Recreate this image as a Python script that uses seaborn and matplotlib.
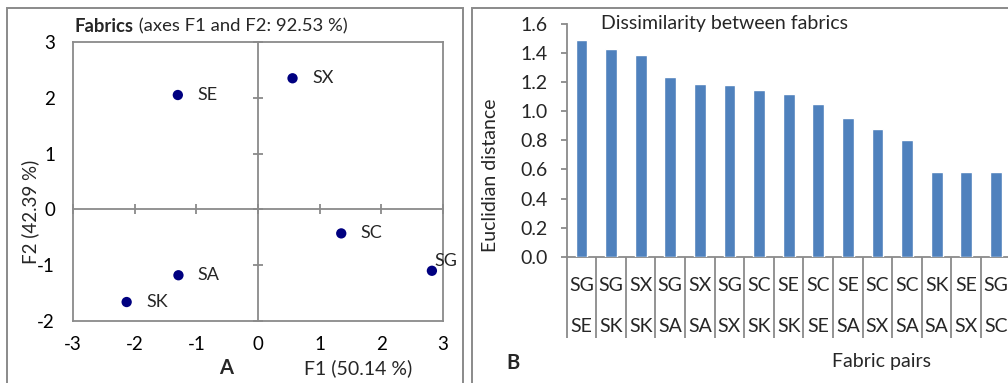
import numpy as np
import pandas as pd
import matplotlib
matplotlib.use("Agg")
import matplotlib.pyplot as plt
from matplotlib.patches import Rectangle
import seaborn as sns

# ---- data: panel A (PCA scores) ----
fabrics = ["SE", "SX", "SC", "SG", "SA", "SK"]
f1_scores = [-1.30, 0.56, 1.35, 2.82, -1.29, -2.13]
f2_scores = [2.05, 2.35, -0.43, -1.10, -1.18, -1.66]

# ---- data: panel B (Euclidean distances) ----
pair_first = ["SG", "SG", "SX", "SG", "SX", "SG", "SC", "SE", "SC", "SE", "SC", "SC", "SK", "SE", "SG"]
pair_second = ["SE", "SK", "SK", "SA", "SA", "SX", "SK", "SK", "SE", "SA", "SX", "SA", "SA", "SX", "SC"]
distances = [1.49, 1.425, 1.385, 1.235, 1.19, 1.18, 1.145, 1.12, 1.05, 0.955, 0.88, 0.80, 0.58, 0.58, 0.58]

sns.set_theme(style="white")
plt.rcParams["font.family"] = ["Lato", "DejaVu Sans"]
plt.rcParams["axes.unicode_minus"] = False

W, H = 1008, 383
fig = plt.figure(figsize=(W / 100, H / 100), dpi=100)
GRAY = "#8a8a8a"


def fx(px):
    return px / W


def fy(py):
    return 1 - py / H


# panel frames
fig.add_artist(Rectangle((fx(7), -0.1), fx(463) - fx(7), fy(8) + 0.1,
                         transform=fig.transFigure, fill=False, ec=GRAY, lw=1.4))
fig.add_artist(Rectangle((fx(472), -0.1), 0.6, fy(8) + 0.1,
                         transform=fig.transFigure, fill=False, ec=GRAY, lw=1.4))

# ---------------- Panel A ----------------
axA = fig.add_axes([fx(73), fy(321), fx(443) - fx(73), (321 - 42) / H])
dfA = pd.DataFrame({"fabric": fabrics, "F1": f1_scores, "F2": f2_scores})
sns.scatterplot(data=dfA, x="F1", y="F2", color="#000080", s=55,
                edgecolor="none", ax=axA, zorder=5)
axA.set_xlim(-3, 3)
axA.set_ylim(-2, 3)
axA.set_xticks(range(-3, 4))
axA.set_yticks(range(-2, 4))
axA.tick_params(length=0, labelsize=13.5, colors="black", pad=11)
axA.tick_params(axis="y", pad=13)
for s in axA.spines.values():
    s.set_color(GRAY)
    s.set_linewidth(1.3)
axA.set_xlabel("")
axA.set_ylabel("")
for name, x, y in zip(dfA["fabric"], dfA["F1"], dfA["F2"]):
    if name == "SG":
        off = (2, 7)
    else:
        off = (14, 0)
    axA.annotate(name, (x, y), xytext=off, textcoords="offset points",
                 ha="left", va="center", fontsize=13)

# crossing axes through origin with ticks
axO = fig.add_axes(axA.get_position(), sharex=axA, sharey=axA)
axO.patch.set_visible(False)
for side in ["top", "right"]:
    axO.spines[side].set_visible(False)
axO.spines["left"].set_position(("data", 0))
axO.spines["bottom"].set_position(("data", 0))
for side in ["left", "bottom"]:
    axO.spines[side].set_color(GRAY)
    axO.spines[side].set_linewidth(1.3)
axO.tick_params(direction="inout", length=7, width=1.3, color=GRAY,
                labelleft=False, labelbottom=False, left=True, bottom=True)

fig.text(fx(30), fy(212), "F2 (42.39 %)", rotation=90, ha="center", va="center", fontsize=13.5)
fig.text(fx(358), fy(368), "F1 (50.14 %)", ha="center", va="center", fontsize=14)
fig.text(fx(226), fy(368), "A", ha="center", va="center", fontsize=14.5, fontweight="bold")
t1 = fig.text(fx(75), fy(26), "Fabrics", ha="left", va="center", fontsize=13.3, fontweight="bold")
axA.annotate(" (axes F1 and F2: 92.53 %)", xy=(1, 0), xycoords=t1,
             ha="left", va="bottom", fontsize=13.3, annotation_clip=False)

# ---------------- Panel B ----------------
x0, x1 = 566.7, 1010.6
axB = fig.add_axes([fx(x0), fy(256.7), fx(x1) - fx(x0), (256.7 - 24) / H])
labels = [f"{a}\n{b}" for a, b in zip(pair_first, pair_second)]
dfB = pd.DataFrame({"pair": labels, "dist": distances})
sns.barplot(data=dfB, x="pair", y="dist", color="#4F81BD", saturation=1,
            width=0.4, errorbar=None, ax=axB, zorder=3)
axB.set_xlim(-0.5, len(labels) - 0.5)
axB.set_ylim(0, 1.6)
yt = np.arange(0, 1.61, 0.2)
axB.set_yticks(yt)
axB.set_yticklabels([f"{v:.1f}" for v in yt])
axB.set_xticks(range(len(labels)))
axB.set_xticklabels(labels)
axB.set_xticks(np.arange(-0.5, len(labels), 1), minor=True)
axB.tick_params(axis="x", which="major", length=0, pad=14.5, labelsize=14)
axB.tick_params(axis="x", which="minor", length=58, width=1.3, color=GRAY, direction="out", bottom=True)
axB.tick_params(axis="y", length=4.5, width=1.3, color=GRAY, direction="out", left=True,
                labelsize=14, pad=9)
for lab in axB.get_xticklabels():
    lab.set_linespacing(2.7)
for side in ["top", "right"]:
    axB.spines[side].set_visible(False)
for side in ["left", "bottom"]:
    axB.spines[side].set_color(GRAY)
    axB.spines[side].set_linewidth(1.3)
axB.set_xlabel("")
axB.set_ylabel("")

fig.text(fx(491), fy(175), "Euclidian distance", rotation=90, ha="center", va="center", fontsize=14)
fig.text(fx(601), fy(24), "Dissimilarity between fabrics", ha="left", va="center", fontsize=14)
fig.text(fx(882), fy(362), "Fabric pairs", ha="center", va="center", fontsize=14)
fig.text(fx(513), fy(363), "B", ha="center", va="center", fontsize=14.5, fontweight="bold")

fig.savefig("out.png", dpi=100)
